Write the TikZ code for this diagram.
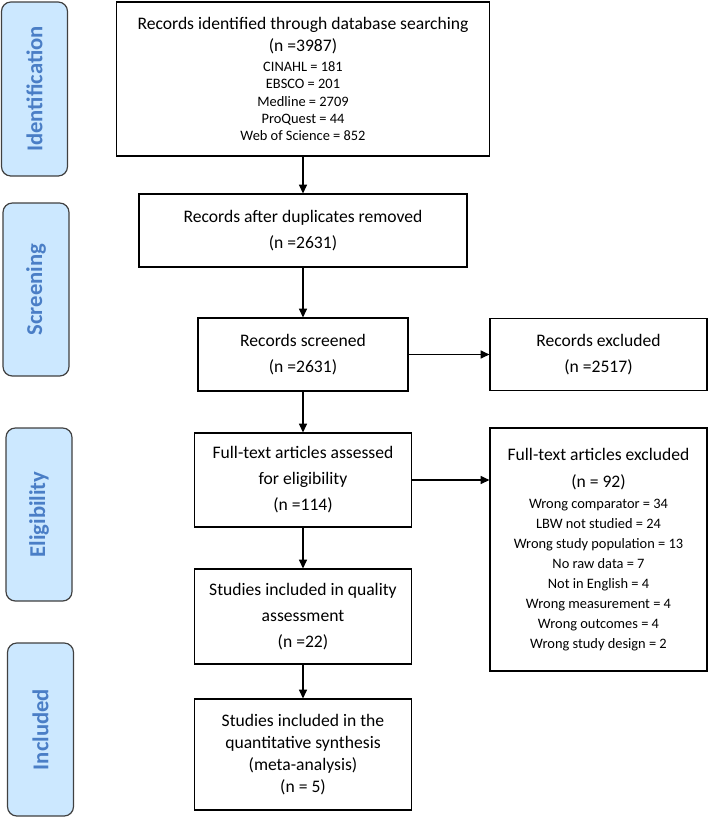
\documentclass[tikz,border=0pt]{standalone}
\usepackage{fontspec}
\setmainfont{Carlito}
\usetikzlibrary{arrows.meta}
\definecolor{stagefill}{HTML}{CCE8FF}
\definecolor{stagetext}{HTML}{4A7EC6}
\definecolor{stageline}{HTML}{404040}
\newcommand{\sm}{\fontsize{10.8pt}{13pt}\selectfont}

\begin{document}
\begin{tikzpicture}[x=0.75pt,y=-0.75pt,>={Triangle[length=6.5pt,width=6pt]},line width=0.9pt,
  box/.style={draw,align=center,inner sep=0pt,font=\fontsize{13.2pt}{20pt}\selectfont},
  stage/.style={draw=stageline,fill=stagefill,rounded corners=7pt,rotate=90,
    minimum width=129.75pt,minimum height=49.5pt,text=stagetext,
    font=\fontsize{17pt}{19pt}\selectfont\bfseries}]
  \useasboundingbox (0,0) rectangle (709,819);

  % 阶段标签
  \node[stage,minimum width=130.5pt] (ident) at (34.5,89) {Identification};
  \node[stage] (screen) at (36,289.5) {Screening};
  \node[stage] (elig) at (39,514.5) {Eligibility};
  \node[stage] (incl) at (40.5,729.5) {Included};

  % 主流程
  \node[box,minimum width=279.75pt,minimum height=115.5pt] (found) at (303,79)
    {Records identified through database searching\\[-3.5pt](n =3987)\\[-5pt]
     {\sm CINAHL = 181}\\[-7pt]{\sm EBSCO = 201}\\[-7pt]{\sm Medline = 2709}\\[-7pt]
     {\sm ProQuest = 44}\\[-7pt]{\sm Web of Science = 852}};
  \node[box,minimum width=246pt,minimum height=54.75pt] (dedup) at (303,230.5)
    {Records after duplicates removed\\(n =2631)};
  \node[box,minimum width=157.5pt,minimum height=54.75pt] (screened) at (303,354.5)
    {Records screened\\(n =2631)};
  \node[box,minimum width=162.75pt,minimum height=70.5pt] (fulltext) at (303,480)
    {Full-text articles assessed\\[-0.5pt]for eligibility\\[-0.5pt](n =114)};
  \node[box,minimum width=162.75pt,minimum height=71.25pt] (quality) at (303,616.5)
    {Studies included in quality\\[-0.5pt]assessment\\[-0.5pt](n =22)};
  \node[box,minimum width=162.75pt,minimum height=83.25pt,
    font=\fontsize{13.2pt}{16.3pt}\selectfont] (synth) at (303,754.5)
    {Studies included in the\\quantitative synthesis\\(meta-analysis)\\(n = 5)};

  % 排除
  \node[box,minimum width=162.75pt,minimum height=54pt] (recout) at (598.5,354.5)
    {Records excluded\\(n =2517)};
  \node[box,minimum width=162.75pt,minimum height=182.25pt] (ftout) at (598.5,549.5)
    {Full-text articles excluded\\(n = 92)\\[-4pt]
     {\sm Wrong comparator = 34}\\[-5pt]{\sm LBW not studied = 24}\\[-5pt]
     {\sm Wrong study population = 13}\\[-5pt]{\sm No raw data = 7}\\[-5pt]
     {\sm Not in English = 4}\\[-5pt]{\sm Wrong measurement = 4}\\[-5pt]
     {\sm Wrong outcomes = 4}\\[-5pt]{\sm Wrong study design = 2}};

  % 箭头
  \draw[->] (found) -- (dedup);
  \draw[->] (dedup) -- (screened);
  \draw[->] (screened) -- (fulltext);
  \draw[->] (fulltext) -- (quality);
  \draw[->] (quality) -- (synth);
  \draw[->] (screened) -- (recout);
  \draw[->] (fulltext.east) -- (fulltext.east -| ftout.west);
\end{tikzpicture}
\end{document}
